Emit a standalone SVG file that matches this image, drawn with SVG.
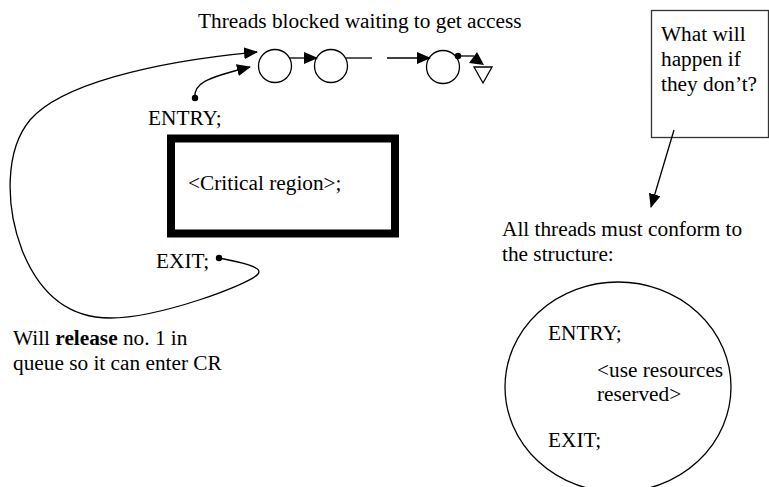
<svg xmlns="http://www.w3.org/2000/svg" width="769" height="487" viewBox="0 0 769 487">
<style>
  text { font-family: "Liberation Serif", "Times New Roman", serif; font-size: 21.3px; fill: #000; }
  .b { font-weight: bold; }
  .ln { fill: none; stroke: #000; stroke-width: 1.3; }
  .dot { fill: #000; }
</style>
<defs>
  <marker id="ah" markerWidth="14" markerHeight="12" refX="13" refY="6" orient="auto" markerUnits="userSpaceOnUse">
    <path d="M0,0 L14,6 L0,12 Z" fill="#000"/>
  </marker>
</defs>
<rect width="769" height="487" fill="#fff"/>

<text id="title" x="198" y="28">Threads blocked waiting to get access</text>

<g id="queue">
  <circle cx="275" cy="66" r="16.5" class="ln"/>
  <circle cx="331" cy="66" r="16.5" class="ln"/>
  <circle cx="443" cy="67" r="16.5" class="ln"/>
  <circle cx="458" cy="56" r="3.2" class="dot"/>
  <polygon points="477,52 469,63 484,65" fill="#000"/>
  <polygon points="474,67 492,67 483,83" fill="#fff" stroke="#000" stroke-width="1.3"/>
</g>

<g id="entry">
  <text x="148" y="125">ENTRY;</text>
  <circle cx="195" cy="98" r="3.2" class="dot"/>
</g>

<g id="critical-region">
  <rect x="171" y="138.5" width="224" height="95" fill="none" stroke="#000" stroke-width="8"/>
  <text x="188" y="190">&lt;Critical region&gt;;</text>
</g>

<g id="exit">
  <text x="156" y="268">EXIT;</text>
  <circle cx="219" cy="258" r="3.2" class="dot"/>
</g>

<g id="release-note">
  <text x="13" y="345">Will <tspan class="b">release</tspan> no. 1 in</text>
  <text x="13" y="370">queue so it can enter CR</text>
</g>

<g id="question">
  <rect x="651.5" y="10.5" width="117" height="127" fill="#fff" stroke="#333" stroke-width="1.3"/>
  <text x="661" y="41">What will</text>
  <text x="661" y="66">happen if</text>
  <text x="661" y="91">they don’t?</text>
</g>

<g id="conform-note">
  <text x="502" y="236">All threads must conform to</text>
  <text x="502" y="261">the structure:</text>
</g>

<g id="structure">
  <ellipse cx="618" cy="387" rx="113" ry="105" class="ln"/>
  <text x="548" y="340">ENTRY;</text>
  <text x="597" y="377">&lt;use resources</text>
  <text x="597" y="401">reserved&gt;</text>
  <text x="548" y="447">EXIT;</text>
</g>

<g id="connectors">
  <line x1="289" y1="58" x2="317" y2="58" class="ln" marker-end="url(#ah)"/>
  <line x1="346" y1="58" x2="372" y2="58" class="ln"/>
  <line x1="387" y1="58" x2="430" y2="58" class="ln" marker-end="url(#ah)"/>
  <line x1="458" y1="56" x2="474" y2="56" class="ln"/>
  <path d="M195 98 C193 84, 205 78, 250 67" class="ln" marker-end="url(#ah)"/>
  <path d="M219 258 C240 262, 264 267, 258 274 C250 284, 160 318, 110 318 C70 318, 40 295, 22 250 C5 205, 5 150, 30 120 C60 85, 150 62, 257 52" class="ln" marker-end="url(#ah)"/>
  <line x1="674" y1="130" x2="651" y2="207" class="ln" marker-end="url(#ah)"/>
</g>
</svg>
